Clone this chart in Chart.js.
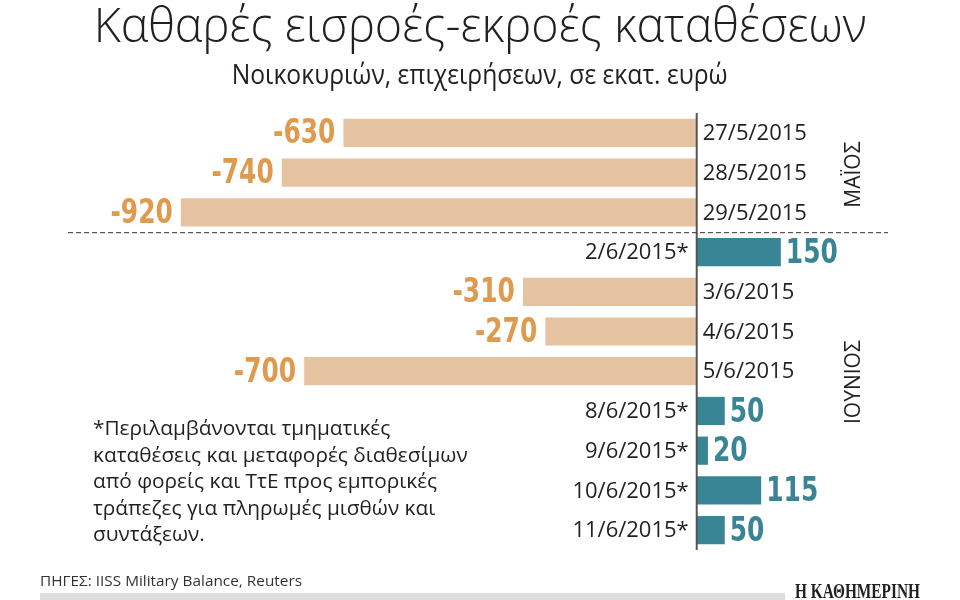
<!DOCTYPE html>
<html>
<head>
<meta charset="utf-8">
<script src="https://cdn.jsdelivr.net/npm/chart.js@4/dist/chart.umd.min.js"></script>
<style>
  html, body { margin: 0; padding: 0; background: #fff; }
  #wrap { position: relative; width: 960px; height: 600px; overflow: hidden; background: #fff; }
  #c { position: absolute; left: 0; top: 0; }
  .t { position: absolute; white-space: nowrap; color: #231f20; }
  #title { left: 0; width: 960px; top: 0; text-align: center; font-family: "Open Sans", sans-serif; font-weight: 300; font-size: 48px; line-height: 48px; }
  #subtitle { left: 0; width: 960px; top: 59px; text-align: center; font-family: "Open Sans", sans-serif; font-weight: 400; font-size: 28px; line-height: 28px; }
  .fitc { display: inline-block; transform-origin: 50% 50%; }
  .fitl { display: inline-block; transform-origin: 0 50%; }
  #note { left: 93px; top: 414px; font-family: "Open Sans", sans-serif; font-size: 20.8px; line-height: 26.5px; color: #231f20; }
  #source { left: 40px; top: 570px; font-family: "Open Sans", sans-serif; font-size: 15px; line-height: 20px; color: #333; }
  #bar { position: absolute; left: 40px; top: 593px; width: 745px; height: 7px; background: #dedede; }
  #logo { left: 795px; top: 580px; font-family: "Liberation Serif", serif; font-weight: bold; font-size: 20px; line-height: 22px; color: #231f20; }
</style>
</head>
<body>
<div id="wrap">
  <canvas id="c" width="960" height="600"></canvas>
  <div class="t" id="title"><span class="fitc" data-w="773">Καθαρές εισροές-εκροές καταθέσεων</span></div>
  <div class="t" id="subtitle"><span class="fitc" data-w="496">Νοικοκυριών, επιχειρήσεων, σε εκατ. ευρώ</span></div>
  <div class="t" id="note">*Περιλαμβάνονται τμηματικές<br>καταθέσεις και μεταφορές διαθεσίμων<br>από φορείς και ΤτΕ προς εμπορικές<br>τράπεζες για πληρωμές μισθών και<br>συντάξεων.</div>
  <div class="t" id="source"><span class="fitl" data-w="262">ΠΗΓΕΣ: IISS Military Balance, Reuters</span></div>
  <div id="bar"></div>
  <div class="t" id="logo"><span class="fitl" data-w="125">Η ΚΑΘΗΜΕΡΙΝΗ</span></div>
</div>
<script>
// ---- data ----
const dates = ["27/5/2015", "28/5/2015", "29/5/2015", "2/6/2015*", "3/6/2015", "4/6/2015", "5/6/2015", "8/6/2015*", "9/6/2015*", "10/6/2015*", "11/6/2015*"];
const flows = [-630, -740, -920, 150, -310, -270, -700, 50, 20, 115, 50];
const monthLabels = ["ΜΑΪΟΣ", "ΙΟΥΝΙΟΣ"];
const monthStart = [0, 3];
const monthEnd = [2, 10];

// ---- fit condensed texts ----
document.querySelectorAll('[data-w]').forEach(el => {
  const w = el.getBoundingClientRect().width;
  const target = parseFloat(el.dataset.w);
  if (w > 0) el.style.transform = 'scaleX(' + (target / w) + ')';
});

const NEG_BAR = '#e6c3a0', POS_BAR = '#3a8595';
const NEG_TXT = '#e09a4e', POS_TXT = '#3a8595';
const VALUE_SQUEEZE = 0.84;

const labelsPlugin = {
  id: 'labelsPlugin',
  afterDatasetsDraw(chart) {
    const ctx = chart.ctx;
    const xs = chart.scales.x, ys = chart.scales.y;
    const area = chart.chartArea;
    const x0 = xs.getPixelForValue(0);
    const meta = chart.getDatasetMeta(0);
    ctx.save();
    // zero axis
    ctx.strokeStyle = '#555';
    ctx.lineWidth = 2;
    ctx.beginPath();
    ctx.moveTo(x0, area.top);
    ctx.lineTo(x0, area.bottom);
    ctx.stroke();
    // dashed separator between months
    const ySep = (ys.getPixelForValue(monthEnd[0]) + ys.getPixelForValue(monthStart[1])) / 2;
    ctx.strokeStyle = '#333';
    ctx.lineWidth = 1;
    ctx.setLineDash([5, 3]);
    ctx.beginPath();
    ctx.moveTo(68, ySep + 0.5);
    ctx.lineTo(888, ySep + 0.5);
    ctx.stroke();
    ctx.setLineDash([]);
    // values and dates
    ctx.textBaseline = 'middle';
    meta.data.forEach((bar, i) => {
      const v = flows[i];
      const y = bar.y;
      const txt = String(v);
      ctx.font = 'bold 33px "Liberation Sans Narrow", "DejaVu Sans Condensed", sans-serif';
      const w = ctx.measureText(txt).width * VALUE_SQUEEZE;
      if (v < 0) {
        ctx.fillStyle = NEG_TXT;
        ctx.textAlign = 'right';
        ctx.fillText(txt, bar.x - 8, y + 2, w);
        ctx.font = '22px "Open Sans", sans-serif';
        ctx.fillStyle = '#231f20';
        ctx.textAlign = 'left';
        ctx.fillText(dates[i], x0 + 6, y + 1);
      } else {
        ctx.fillStyle = POS_TXT;
        ctx.textAlign = 'left';
        ctx.fillText(txt, bar.x + 5, y + 2, w);
        ctx.font = '22px "Open Sans", sans-serif';
        ctx.fillStyle = '#231f20';
        ctx.textAlign = 'right';
        ctx.fillText(dates[i], x0 - 8, y + 1);
      }
    });
    // month labels (rotated)
    ctx.font = '21px "Open Sans", sans-serif';
    ctx.fillStyle = '#231f20';
    ctx.textAlign = 'center';
    ctx.textBaseline = 'middle';
    monthLabels.forEach((m, k) => {
      let yc = (ys.getPixelForValue(monthStart[k]) + ys.getPixelForValue(monthEnd[k])) / 2;
      if (k === 0) yc += 2;
      if (k === 1) yc -= 9;
      ctx.save();
      ctx.translate(854, yc);
      ctx.rotate(-Math.PI / 2);
      ctx.fillText(m, 0, 0);
      ctx.restore();
    });
    ctx.restore();
  }
};

new Chart(document.getElementById('c'), {
  type: 'bar',
  data: {
    labels: dates,
    datasets: [{
      data: flows,
      backgroundColor: flows.map(v => v < 0 ? NEG_BAR : POS_BAR),
      borderWidth: 0,
      barPercentage: 0.71,
      categoryPercentage: 1
    }]
  },
  options: {
    indexAxis: 'y',
    responsive: false,
    animation: false,
    layout: { padding: { left: 136, right: 39, top: 113, bottom: 50 } },
    scales: {
      x: { display: false, min: -1000, max: 400 },
      y: { display: false }
    },
    plugins: { legend: { display: false }, tooltip: { enabled: false }, title: { display: false } }
  },
  plugins: [labelsPlugin]
});
</script>
</body>
</html>
